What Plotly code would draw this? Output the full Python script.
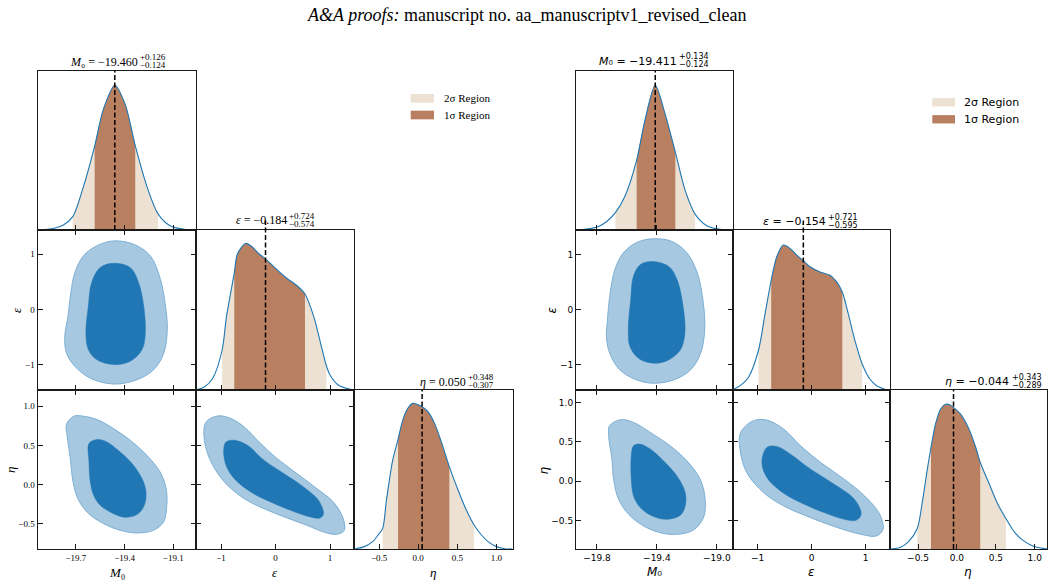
import numpy as np
import plotly.graph_objects as go

W, H = 1053, 584

# ======================= DATA =======================
# ---- Left corner plot ----
L_M0_SUMMARY = (-19.460, 0.126, 0.124)      # centre, +err, -err
L_EPS_SUMMARY = (-0.184, 0.724, 0.574)
L_ETA_SUMMARY = (0.050, 0.348, 0.307)
L_M0_2SIG = (-19.719, -19.193)
L_EPS_2SIG = (-0.98, 0.934)
L_ETA_2SIG = (-0.453, 0.714)

L_M0_X = [-19.94, -19.861, -19.779, -19.719, -19.654, -19.586, -19.530, -19.460,
          -19.396, -19.334, -19.261, -19.193, -19.117, -19.034, -18.953]
L_M0_PDF = [0.0, 0.006, 0.03, 0.084, 0.27, 0.52, 0.76, 0.91, 0.79, 0.53, 0.27, 0.10,
            0.025, 0.005, 0.0]
L_EPS_X = [-1.46, -1.3, -1.15, -0.98, -0.9, -0.758, -0.7, -0.55, -0.45, -0.3, -0.184,
           0.0, 0.2, 0.4, 0.54, 0.7, 0.85, 0.934, 1.0, 1.15, 1.3, 1.44]
L_EPS_PDF = [0.0, 0.02, 0.075, 0.25, 0.46, 0.73, 0.85, 0.916, 0.90, 0.85, 0.82,
             0.76, 0.70, 0.65, 0.60, 0.46, 0.26, 0.15, 0.094, 0.031, 0.01, 0.0]
L_ETA_X = [-0.82, -0.688, -0.581, -0.517, -0.453, -0.41, -0.369, -0.325, -0.257, -0.197,
           -0.132, -0.068, -0.026, 0.05, 0.124, 0.209, 0.295, 0.398, 0.509, 0.615,
           0.714, 0.808, 0.893, 1.0, 1.107, 1.205]
L_ETA_PDF = [0.0, 0.015, 0.046, 0.085, 0.13, 0.29, 0.43, 0.56, 0.69, 0.811,
             0.885, 0.916, 0.912, 0.895, 0.864, 0.79, 0.675, 0.518, 0.371, 0.245,
             0.151, 0.088, 0.046, 0.015, 0.002, 0.0]

L_M0_EPS_OUTER = [(-19.468, 1.242), (-19.572, 1.152), (-19.654, 0.970), (-19.706, 0.667),
                  (-19.731, 0.303), (-19.748, -0.121), (-19.768, -0.485), (-19.758, -0.788),
                  (-19.706, -1.030), (-19.613, -1.242), (-19.468, -1.352), (-19.323, -1.273),
                  (-19.220, -1.091), (-19.158, -0.788), (-19.137, -0.364), (-19.148, 0.061),
                  (-19.179, 0.545), (-19.241, 0.970), (-19.344, 1.182)]
L_M0_EPS_INNER = [(-19.468, 0.836), (-19.551, 0.758), (-19.603, 0.485), (-19.623, 0.061),
                  (-19.638, -0.424), (-19.623, -0.727), (-19.572, -0.909), (-19.468, -1.0),
                  (-19.365, -0.939), (-19.292, -0.727), (-19.272, -0.424), (-19.282, 0.061),
                  (-19.313, 0.485), (-19.365, 0.758)]
L_M0_ETA_OUTER = [(-19.713, 0.871), (-19.652, 0.871), (-19.570, 0.829), (-19.468, 0.714),
                  (-19.365, 0.565), (-19.263, 0.374), (-19.181, 0.161), (-19.144, -0.051),
                  (-19.140, -0.264), (-19.160, -0.476), (-19.222, -0.582), (-19.324, -0.616),
                  (-19.427, -0.582), (-19.529, -0.497), (-19.621, -0.370), (-19.683, -0.200),
                  (-19.717, 0.034), (-19.734, 0.331), (-19.754, 0.629), (-19.758, 0.765)]
L_M0_ETA_INNER = [(-19.619, 0.523), (-19.570, 0.574), (-19.509, 0.544), (-19.427, 0.416),
                  (-19.345, 0.246), (-19.283, 0.034), (-19.267, -0.136), (-19.283, -0.285),
                  (-19.324, -0.382), (-19.396, -0.416), (-19.468, -0.370), (-19.550, -0.263),
                  (-19.590, -0.136), (-19.611, 0.034), (-19.619, 0.289)]
L_EPS_ETA_OUTER = [(-1.061, 0.875), (-0.818, 0.841), (-0.576, 0.735), (-0.273, 0.523),
                   (0.030, 0.331), (0.394, 0.140), (0.758, -0.051), (1.061, -0.221),
                   (1.242, -0.433), (1.261, -0.582), (1.121, -0.633), (0.879, -0.603),
                   (0.576, -0.518), (0.212, -0.425), (-0.212, -0.306), (-0.576, -0.178),
                   (-0.939, 0.034), (-1.212, 0.331), (-1.315, 0.629), (-1.273, 0.799)]
L_EPS_ETA_INNER = [(-0.909, 0.544), (-0.758, 0.565), (-0.515, 0.501), (-0.212, 0.310),
                   (0.152, 0.140), (0.515, -0.030), (0.788, -0.200), (0.879, -0.370),
                   (0.818, -0.425), (0.636, -0.412), (0.273, -0.327), (-0.091, -0.221),
                   (-0.455, -0.093), (-0.758, 0.076), (-0.909, 0.246), (-0.952, 0.438)]

# ---- Right corner plot ----
R_M0_SUMMARY = (-19.411, 0.134, 0.124)
R_EPS_SUMMARY = (-0.154, 0.721, 0.595)
R_ETA_SUMMARY = (-0.044, 0.343, 0.289)
R_M0_2SIG = (-19.677, -19.145)
R_EPS_2SIG = (-0.985, 0.935)
R_ETA_2SIG = (-0.509, 0.629)

R_M0_X = [-19.943, -19.872, -19.793, -19.737, -19.677, -19.615, -19.535, -19.48, -19.411,
          -19.346, -19.277, -19.212, -19.145, -19.067, -18.978, -18.893]
R_M0_PDF = [0.0, 0.006, 0.021, 0.052, 0.109, 0.209, 0.44, 0.69, 0.91, 0.732, 0.49,
            0.251, 0.10, 0.027, 0.004, 0.0]
R_EPS_X = [-1.456, -1.323, -1.169, -0.985, -0.862, -0.749, -0.646, -0.523, -0.4, -0.277,
           -0.154, -0.031, 0.154, 0.338, 0.462, 0.567, 0.677, 0.8, 0.935, 1.077, 1.2,
           1.262, 1.35, 1.45]
R_EPS_PDF = [0.003, 0.027, 0.08, 0.247, 0.477, 0.686, 0.833, 0.906, 0.885, 0.843,
             0.808, 0.770, 0.738, 0.717, 0.676, 0.613, 0.477, 0.31, 0.163, 0.069, 0.027,
             0.017, 0.005, 0.0]
R_ETA_X = [-0.86, -0.728, -0.621, -0.509, -0.448, -0.384, -0.333, -0.276, -0.211, -0.147,
           -0.082, -0.044, 0.047, 0.155, 0.241, 0.299, 0.414, 0.522, 0.629, 0.737, 0.845,
           0.974, 1.103, 1.157]
R_ETA_PDF = [0.0, 0.01, 0.046, 0.13, 0.285, 0.49, 0.64, 0.785, 0.879, 0.91, 0.904, 0.89,
             0.848, 0.754, 0.64, 0.546, 0.41, 0.285, 0.192, 0.108, 0.056, 0.019, 0.004, 0.0]

R_M0_EPS_OUTER = [(-19.422, 1.291), (-19.535, 1.224), (-19.625, 1.030), (-19.681, 0.727),
                  (-19.715, 0.242), (-19.730, -0.182), (-19.737, -0.485), (-19.715, -0.788),
                  (-19.647, -1.091), (-19.535, -1.273), (-19.422, -1.333), (-19.288, -1.273),
                  (-19.175, -1.091), (-19.108, -0.788), (-19.081, -0.364), (-19.090, 0.121),
                  (-19.130, 0.667), (-19.198, 1.030), (-19.299, 1.242)]
R_M0_EPS_INNER = [(-19.434, 0.879), (-19.512, 0.818), (-19.557, 0.606), (-19.575, 0.182),
                  (-19.591, -0.364), (-19.580, -0.667), (-19.524, -0.879), (-19.422, -0.970),
                  (-19.321, -0.909), (-19.243, -0.727), (-19.213, -0.424), (-19.225, 0.061),
                  (-19.265, 0.545), (-19.321, 0.788)]
R_M0_ETA_OUTER = [(-19.644, 0.780), (-19.556, 0.746), (-19.444, 0.619), (-19.311, 0.449),
                  (-19.200, 0.258), (-19.111, 0.025), (-19.078, -0.229), (-19.089, -0.462),
                  (-19.156, -0.619), (-19.267, -0.674), (-19.378, -0.653), (-19.489, -0.568),
                  (-19.589, -0.419), (-19.656, -0.229), (-19.689, 0.025), (-19.700, 0.280),
                  (-19.722, 0.576), (-19.716, 0.703)]
R_M0_ETA_INNER = [(-19.556, 0.449), (-19.511, 0.470), (-19.444, 0.407), (-19.356, 0.258),
                  (-19.267, 0.068), (-19.211, -0.144), (-19.211, -0.314), (-19.244, -0.432),
                  (-19.333, -0.483), (-19.422, -0.449), (-19.511, -0.335), (-19.556, -0.186),
                  (-19.571, 0.025), (-19.571, 0.322)]
R_EPS_ETA_OUTER = [(-1.078, 0.767), (-0.829, 0.775), (-0.517, 0.661), (-0.206, 0.449),
                   (0.168, 0.237), (0.604, 0.025), (0.978, -0.186), (1.259, -0.419),
                   (1.321, -0.610), (1.196, -0.695), (0.916, -0.674), (0.480, -0.589),
                   (-0.019, -0.462), (-0.517, -0.314), (-0.891, -0.144), (-1.202, 0.110),
                   (-1.327, 0.407), (-1.315, 0.619)]
R_EPS_ETA_INNER = [(-0.829, 0.428), (-0.642, 0.441), (-0.393, 0.343), (-0.019, 0.153),
                   (0.417, -0.038), (0.791, -0.229), (0.916, -0.419), (0.822, -0.496),
                   (0.604, -0.483), (0.231, -0.398), (-0.206, -0.271), (-0.579, -0.123),
                   (-0.829, 0.047), (-0.922, 0.237)]

# axis ranges and ticks
L_RANGES = {"M0": [-19.936, -18.960], "eps": [-1.46, 1.44], "eta": [-0.82, 1.205]}
R_RANGES = {"M0": [-19.94, -18.892], "eps": [-1.456, 1.45], "eta": [-0.86, 1.157]}
L_TICKS = {"M0": ([-19.7, -19.4, -19.1], ["\u221219.7", "\u221219.4", "\u221219.1"]),
           "eps": ([-1, 0, 1], ["\u22121", "0", "1"]),
           "eta": ([-0.5, 0.0, 0.5, 1.0], ["\u22120.5", "0.0", "0.5", "1.0"])}
R_TICKS = {"M0": ([-19.8, -19.4, -19.0], ["\u221219.8", "\u221219.4", "\u221219.0"]),
           "eps": ([-1, 0, 1], ["\u22121", "0", "1"]),
           "eta": ([-0.5, 0.0, 0.5, 1.0], ["\u22120.5", "0.0", "0.5", "1.0"])}
LEGEND_LABELS = ["2\u03c3 Region", "1\u03c3 Region"]
TITLE_TEXT = "<i>A&amp;A proofs:</i> manuscript no. aa_manuscriptv1_revised_clean"
SYM_M0 = "<i>M</i>\u2080"
SYM_EPS = "<i>\u03b5</i>"
SYM_ETA = "<i>\u03b7</i>"

# ======================= STYLE =======================
BEIGE = "#ece1d2"
BROWN = "#b87f60"
CURVE = "#1f77b4"
OUTER_FILL = "#a6c8e0"
OUTER_EDGE = "#7eb0d5"
INNER_FILL = "#2077b4"
FRAME = "#1a1a1a"
SERIF = "Liberation Serif"
SANS = "DejaVu Sans"

ROWS = [(71, 230), (230, 390), (390, 549)]
L_COLS = [(37.5, 196), (196, 354), (354, 512.5)]
R_COLS = [(576, 733), (733, 890), (890, 1047)]

fig = go.Figure()
layout = {}
shapes = []
annotations = []


def dom_x(c):
    return [c[0] / W, c[1] / W]


def dom_y(r):
    return [1 - r[1] / H, 1 - r[0] / H]


def make_axes(idx, col, row, xkey, ykey, ranges, ticks, show_x, show_y, is_1d, tfont):
    sid = "" if idx == 1 else str(idx)
    xa = dict(domain=dom_x(col), range=ranges[xkey], anchor="y" + sid,
              showline=True, linecolor=FRAME, linewidth=1,
              mirror=True if is_1d else "allticks",
              ticks="inside", ticklen=5, tickwidth=1, tickcolor=FRAME,
              tickmode="array", tickvals=ticks[xkey][0], ticktext=ticks[xkey][1],
              showticklabels=show_x, tickfont=tfont, showgrid=False, zeroline=False,
              fixedrange=True)
    if is_1d:
        ya = dict(domain=dom_y(row), range=[0, 1], anchor="x" + sid, showline=True,
                  linecolor=FRAME, linewidth=1, mirror=True, ticks="",
                  showticklabels=False, showgrid=False, zeroline=False, fixedrange=True)
    else:
        ya = dict(domain=dom_y(row), range=ranges[ykey], anchor="x" + sid,
                  showline=True, linecolor=FRAME, linewidth=1, mirror="allticks",
                  ticks="inside", ticklen=5, tickwidth=1, tickcolor=FRAME,
                  tickmode="array", tickvals=ticks[ykey][0], ticktext=ticks[ykey][1],
                  showticklabels=show_y, tickfont=tfont, showgrid=False, zeroline=False,
                  fixedrange=True)
    layout["xaxis" + sid] = xa
    layout["yaxis" + sid] = ya
    return sid


def add_1d(sid, xs, ps, summary, two_sig, dash_top=1.0):
    xs = np.asarray(xs, float)
    ps = np.asarray(ps, float)
    c, plus, minus = summary
    for (lo, hi), col in [(two_sig, BEIGE), ((c - minus, c + plus), BROWN)]:
        inside = (xs > lo + 1e-3) & (xs < hi - 1e-3)
        sx = np.concatenate([[lo], xs[inside], [hi]])
        sy = np.concatenate([[np.interp(lo, xs, ps)], ps[inside], [np.interp(hi, xs, ps)]])
        fig.add_trace(go.Scatter(x=sx, y=sy, mode="lines", fill="tozeroy", fillcolor=col,
                                 line=dict(width=0, shape="spline", smoothing=0.8),
                                 xaxis="x" + sid, yaxis="y" + sid, hoverinfo="skip",
                                 showlegend=False))
    fig.add_trace(go.Scatter(x=xs, y=ps, mode="lines",
                             line=dict(color=CURVE, width=1.1, shape="spline", smoothing=0.8),
                             xaxis="x" + sid, yaxis="y" + sid, hoverinfo="skip",
                             showlegend=False))
    shapes.append(dict(type="line", xref="x" + sid, yref="y" + sid + " domain",
                       x0=c, x1=c, y0=0, y1=dash_top,
                       line=dict(color="black", width=1.5, dash="5px,2.5px")))


def add_2d(sid, outer, inner):
    for pts, fc, lc, lw in [(outer, OUTER_FILL, OUTER_EDGE, 1.0),
                            (inner, INNER_FILL, INNER_FILL, 0.5)]:
        xs = [p[0] for p in pts] + [pts[0][0]]
        ys = [p[1] for p in pts] + [pts[0][1]]
        fig.add_trace(go.Scatter(x=xs, y=ys, mode="lines", fill="toself", fillcolor=fc,
                                 line=dict(color=lc, width=lw, shape="spline", smoothing=1.0),
                                 xaxis="x" + sid, yaxis="y" + sid, hoverinfo="skip",
                                 showlegend=False))


def ann(x, y, text, size, family, xanchor="center", angle=0, color="black"):
    annotations.append(dict(x=x / W, y=1 - y / H, xref="paper", yref="paper",
                            text=text, showarrow=False, xanchor=xanchor, yanchor="middle",
                            textangle=angle, font=dict(size=size, family=family, color=color),
                            borderpad=0))


def build_corner(base, cols, ranges, ticks, data, tfont):
    (m0, eps, eta, m0e, m0h, eh) = data
    s1 = make_axes(base + 1, cols[0], ROWS[0], "M0", None, ranges, ticks, False, False, True, tfont)
    s2 = make_axes(base + 2, cols[0], ROWS[1], "M0", "eps", ranges, ticks, False, True, False, tfont)
    s3 = make_axes(base + 3, cols[1], ROWS[1], "eps", None, ranges, ticks, False, False, True, tfont)
    s4 = make_axes(base + 4, cols[0], ROWS[2], "M0", "eta", ranges, ticks, True, True, False, tfont)
    s5 = make_axes(base + 5, cols[1], ROWS[2], "eps", "eta", ranges, ticks, True, False, False, tfont)
    s6 = make_axes(base + 6, cols[2], ROWS[2], "eta", None, ranges, ticks, True, False, True, tfont)
    add_1d(s1, *m0)
    add_2d(s2, *m0e)
    add_1d(s3, *eps, dash_top=1.06)
    add_2d(s4, *m0h)
    add_2d(s5, *eh)
    add_1d(s6, *eta)


build_corner(0, L_COLS, L_RANGES, L_TICKS,
             ((L_M0_X, L_M0_PDF, L_M0_SUMMARY, L_M0_2SIG),
              (L_EPS_X, L_EPS_PDF, L_EPS_SUMMARY, L_EPS_2SIG),
              (L_ETA_X, L_ETA_PDF, L_ETA_SUMMARY, L_ETA_2SIG),
              (L_M0_EPS_OUTER, L_M0_EPS_INNER),
              (L_M0_ETA_OUTER, L_M0_ETA_INNER),
              (L_EPS_ETA_OUTER, L_EPS_ETA_INNER)),
             dict(family=SERIF, size=9, color="black"))
build_corner(6, R_COLS, R_RANGES, R_TICKS,
             ((R_M0_X, R_M0_PDF, R_M0_SUMMARY, R_M0_2SIG),
              (R_EPS_X, R_EPS_PDF, R_EPS_SUMMARY, R_EPS_2SIG),
              (R_ETA_X, R_ETA_PDF, R_ETA_SUMMARY, R_ETA_2SIG),
              (R_M0_EPS_OUTER, R_M0_EPS_INNER),
              (R_M0_ETA_OUTER, R_M0_ETA_INNER),
              (R_EPS_ETA_OUTER, R_EPS_ETA_INNER)),
             dict(family=SANS, size=9, color="black"))


def fmt(v):
    s = f"{abs(v):.3f}"
    return ("\u2212" if v < 0 else "") + s


def diag_title(sym, summary, x_end, y, fam, size_main, size_script, dy_up, dy_dn):
    c, plus, minus = summary
    ann(x_end, y, f"{sym} = {fmt(c)}", size_main, fam, xanchor="right")
    ann(x_end + 0.5, y - dy_up, f"+{plus:.3f}", size_script, fam, xanchor="left")
    ann(x_end + 0.5, y + dy_dn, f"\u2212{minus:.3f}", size_script, fam, xanchor="left")


diag_title(SYM_M0, L_M0_SUMMARY, 138.5, 61.5, SERIF, 12, 9, 4.8, 3.3)
diag_title(SYM_EPS, L_EPS_SUMMARY, 287.5, 220.5, SERIF, 12, 9, 4.5, 3.3)
diag_title(SYM_ETA, L_ETA_SUMMARY, 466.5, 381.5, SERIF, 12, 9, 4.5, 3.3)
diag_title(SYM_M0, R_M0_SUMMARY, 677.5, 61, SANS, 11, 8, 4.3, 3.8)
diag_title(SYM_EPS, R_EPS_SUMMARY, 826.5, 221.5, SANS, 11, 8, 4.3, 3.8)
diag_title(SYM_ETA, R_ETA_SUMMARY, 1010, 381.5, SANS, 11, 8, 4.3, 3.8)

# axis titles
ann(117, 572.5, SYM_M0, 13, SERIF)
ann(275, 572.5, SYM_EPS, 13, SERIF)
ann(433, 572.5, SYM_ETA, 13, SERIF)
ann(16, 310, SYM_EPS, 13, SERIF, angle=-90)
ann(10, 470, SYM_ETA, 13, SERIF, angle=-90)
ann(654.5, 571.5, SYM_M0, 12, SANS)
ann(811, 571.5, SYM_EPS, 12, SANS)
ann(968, 571.5, SYM_ETA, 12, SANS)
ann(551.5, 310, SYM_EPS, 12, SANS, angle=-90)
ann(543.5, 471, SYM_ETA, 12, SANS, angle=-90)

# legends (patch + label)
for (x0, x1, ys, h, tx, fam) in [(410.7, 434, (98.3, 115), 8.7, 442.5, SERIF),
                                 (932.3, 955, (102.3, 119.3), 8.3, 963, SANS)]:
    for yc, col, lab in zip(ys, (BEIGE, BROWN), LEGEND_LABELS):
        shapes.append(dict(type="rect", xref="paper", yref="paper",
                           x0=x0 / W, x1=x1 / W, y0=1 - (yc + h / 2) / H, y1=1 - (yc - h / 2) / H,
                           fillcolor=col, line=dict(width=0)))
        ann(tx, yc, lab, 11, fam, xanchor="left")

# page header
ann(526.5, 15, TITLE_TEXT, 18, SERIF)

fig.update_layout(width=W, height=H, margin=dict(l=0, r=0, t=0, b=0),
                  paper_bgcolor="white", plot_bgcolor="rgba(0,0,0,0)",
                  showlegend=False, hovermode=False,
                  shapes=shapes, annotations=annotations, **layout)
fig.write_html("out.html")
